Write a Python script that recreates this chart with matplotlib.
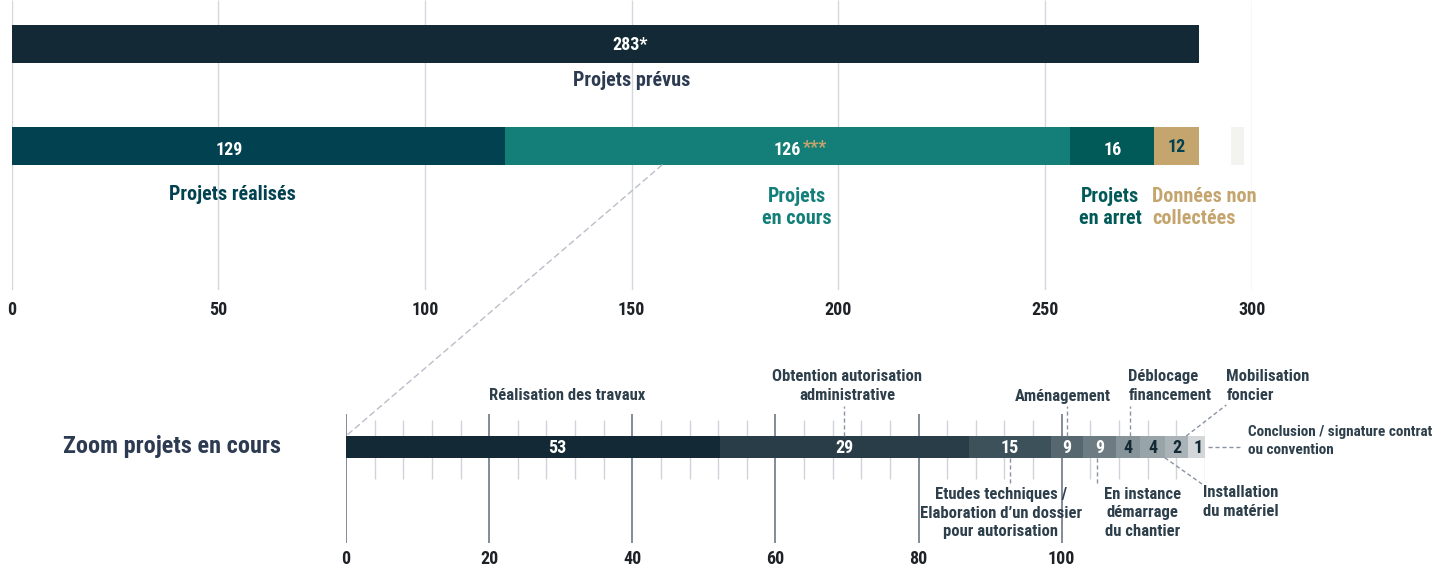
import numpy as np
import matplotlib
matplotlib.use("Agg")
import matplotlib.pyplot as plt
from matplotlib import font_manager
from matplotlib.patches import ConnectionPatch

# pick a narrow bold face if one is installed
installed = {f.name for f in font_manager.fontManager.ttflist}
FONT = "DejaVu Sans"
for cand in ["Liberation Sans Narrow", "Roboto Condensed", "Open Sans Condensed", "Roboto"]:
    if cand in installed:
        FONT = cand
        break
plt.rcParams["font.family"] = [FONT, "DejaVu Sans"]
plt.rcParams["font.weight"] = "bold"

# ---- data: projects overview ----
planned_count = 283
planned_width = 287.3          # bar length as drawn in the source
status_names = ["Projets réalisés", "Projets\nen cours", "Projets\nen arret", "Données non\ncollectées"]
status_counts = [129, 126, 16, 12]
status_widths = [119.4, 136.7, 20.3, 10.9]
status_colors = ["#02414f", "#137f78", "#015a58", "#c4a56e"]
top_ticks = [0, 50, 100, 150, 200, 250, 300]

# ---- data: zoom on ongoing projects ----
stage_names = ["Réalisation des travaux", "Obtention autorisation\nadministrative",
               "Etudes techniques /\nElaboration d\u2019un dossier\npour autorisation",
               "Aménagement", "En instance\ndémarrage\ndu chantier", "Déblocage\nfinancement",
               "Installation\ndu matériel", "Mobilisation\nfoncier",
               "Conclusion / signature contrat\nou convention"]
stage_counts = [53, 29, 15, 9, 9, 4, 4, 2, 1]
stage_widths = [52.2, 34.8, 11.45, 4.55, 4.6, 3.4, 3.4, 3.3, 2.8]
stage_colors = ["#132a36", "#283d48", "#3d515b", "#56676f", "#6d7b82",
                "#87949a", "#99a4a9", "#aab3b7", "#d3d7da"]
zoom_ticks = [0, 20, 40, 60, 80, 100]

W, H = 1448, 568
fig = plt.figure(figsize=(W / 100, H / 100), dpi=100)


def px_axes(x0, y0, x1, y1):
    return fig.add_axes([x0 / W, 1 - y1 / H, (x1 - x0) / W, (y1 - y0) / H])


# ================= top chart =================
ax1 = px_axes(11.7, 0, 1251.7, 290)
ax1.set_xlim(0, 300)
ax1.set_ylim(290, 0)
for s in ax1.spines.values():
    s.set_visible(False)
ax1.set_yticks([])
ax1.set_xticks(top_ticks)
ax1.tick_params(axis="x", length=0, pad=8, labelsize=13, labelcolor="#1e2226")
ax1.vlines(top_ticks, 0, 290, color="#d6d7dc", lw=1, zorder=0)

row_planned, row_status, bar_h = 43.85, 145.85, 37.7

ax1.barh(row_planned, planned_width, height=bar_h, color="#132a36", zorder=2)
ax1.text(planned_width / 2 + 6, row_planned + 1.5, f"{planned_count}*", ha="center", va="center",
         color="white", fontsize=13, zorder=3)
ax1.text(planned_width / 2 + 6.3, 81, "Projets prévus", ha="center", va="center",
         color="#2d3b52", fontsize=14.5)

lefts = np.concatenate([[0], np.cumsum(status_widths)[:-1]])
ax1.barh([row_status] * 4, status_widths, left=lefts, height=bar_h,
         color=status_colors, zorder=2)
# grey placeholder box after the bar
ax1.barh(row_status, 3.2, left=295.0, height=bar_h, color="#f3f3ef", zorder=2)

label_shift = [-7.1, 0, 0, 0]
num_colors = ["white", "white", "white", "#02414f"]
for i, (c, w, l) in enumerate(zip(status_counts, status_widths, lefts)):
    cx = l + w / 2 + label_shift[i]
    if i == 1:
        t = ax1.text(cx, row_status + 4, f"{c}", ha="center", va="center", color="white",
                     fontsize=13, zorder=3)
        ax1.annotate("***", xycoords=t, xy=(1, 0.5), xytext=(1, 1), textcoords="offset points",
                     ha="left", va="center", color="#c4a56e", fontsize=13, zorder=3)
    else:
        dy = 1 if i == 3 else 4
        ax1.text(cx, row_status + dy, f"{c}", ha="center", va="center",
                 color=num_colors[i], fontsize=13, zorder=3)

name_x = [lefts[0] + status_widths[0] / 2 - 6.4, lefts[1] + status_widths[1] / 2 + 2.3,
          lefts[2] + status_widths[2] / 2 - 0.5, lefts[3] - 0.5]
name_ha = ["center", "center", "center", "left"]
name_colors = ["#02414f", "#137f78", "#015a58", "#c4a56e"]
for i, n in enumerate(status_names):
    y = 195 if "\n" not in n else 207
    ax1.text(name_x[i], y, n, ha=name_ha[i], va="center", color=name_colors[i],
             fontsize=14.5, linespacing=1.2, multialignment="center" if i < 3 else "left")

# ================= zoom chart =================
ax2 = px_axes(346, 414, 346 + 120 * 7.157, 543)
ax2.set_xlim(0, 120)
ax2.set_ylim(543, 414)
for s in ax2.spines.values():
    s.set_visible(False)
ax2.set_yticks([])
ax2.set_xticks(zoom_ticks)
ax2.tick_params(axis="x", length=0, pad=5, labelsize=13, labelcolor="#1e2226")

minor = [v for v in range(4, 121, 4) if v not in zoom_ticks]
ax2.vlines(minor, 420, 479, color="#d0d3da", lw=1, zorder=0)
ax2.vlines(zoom_ticks, 414, 543, color="#6e7787", lw=1.2, zorder=0)

bar_y, bar_h2 = 446.85, 21.7
slefts = np.concatenate([[0], np.cumsum(stage_widths)[:-1]])
ax2.barh([bar_y] * len(stage_counts), stage_widths, left=slefts, height=bar_h2,
         color=stage_colors, zorder=2)

val_shift = [3.4, 0, 0, 0, 0, 0, 0, 0, 0]
for i, (c, w, l) in enumerate(zip(stage_counts, stage_widths, slefts)):
    col = "white" if i < 5 else "#132a36"
    ax2.text(l + w / 2 + val_shift[i], bar_y + 1.5, str(c), ha="center", va="center",
             color=col, fontsize=13, zorder=3)

# stage label layout: (x, y, ha, size, leader start, leader end)
bar_top, bar_bot = 436, 457.7
centers = slefts + np.array(stage_widths) / 2
layout = [
    (30.9, 395, "center", 12, None, None),
    (70.0, 386, "center", 12, (centers[1], bar_top), (centers[1], 406)),
    (91.5, 513, "center", 12, (centers[2], bar_bot), (centers[2], 483)),
    (100.2, 396, "center", 12, (centers[3], bar_top), (centers[3], 406)),
    (111.3, 513, "center", 12, (centers[4] - 0.4, bar_bot), (centers[4] - 0.4, 483)),
    (109.3, 386, "left", 12, (centers[5] + 0.3, bar_top), (centers[5] + 0.3, 406)),
    (119.7, 502, "left", 12, (slefts[6] + stage_widths[6], bar_bot), (119.6, 484)),
    (123.0, 386, "left", 12, (slefts[7] + stage_widths[7] - 0.3, bar_top), (123.0, 405)),
    (126.0, 441, "left", 11, (slefts[8] + stage_widths[8], 447), (125.0, 447)),
]
for name, (x, y, ha, fs, p0, p1) in zip(stage_names, layout):
    ax2.text(x, y, name, ha=ha, va="center", color="#2e3f4c", fontsize=fs,
             linespacing=1.3, multialignment=ha, clip_on=False)
    if p0 is not None:
        ax2.plot([p0[0], p1[0]], [p0[1], p1[1]], ls=(0, (3, 2)), color="#8a93a3",
                 lw=1, clip_on=False, zorder=4)

fig.text(63 / W, 1 - 447 / H, "Zoom projets en cours", ha="left", va="center",
         color="#2d3b52", fontsize=17.5)

# dashed link from the ongoing segment to the zoom bar
con = ConnectionPatch(xyA=((662 - 11.7) / 4.1333, 165), coordsA=ax1.transData,
                      xyB=(0, 436), coordsB=ax2.transData,
                      ls=(0, (4, 3)), color="#b9bec8", lw=1)
fig.add_artist(con)

fig.savefig("out.png", dpi=100)
